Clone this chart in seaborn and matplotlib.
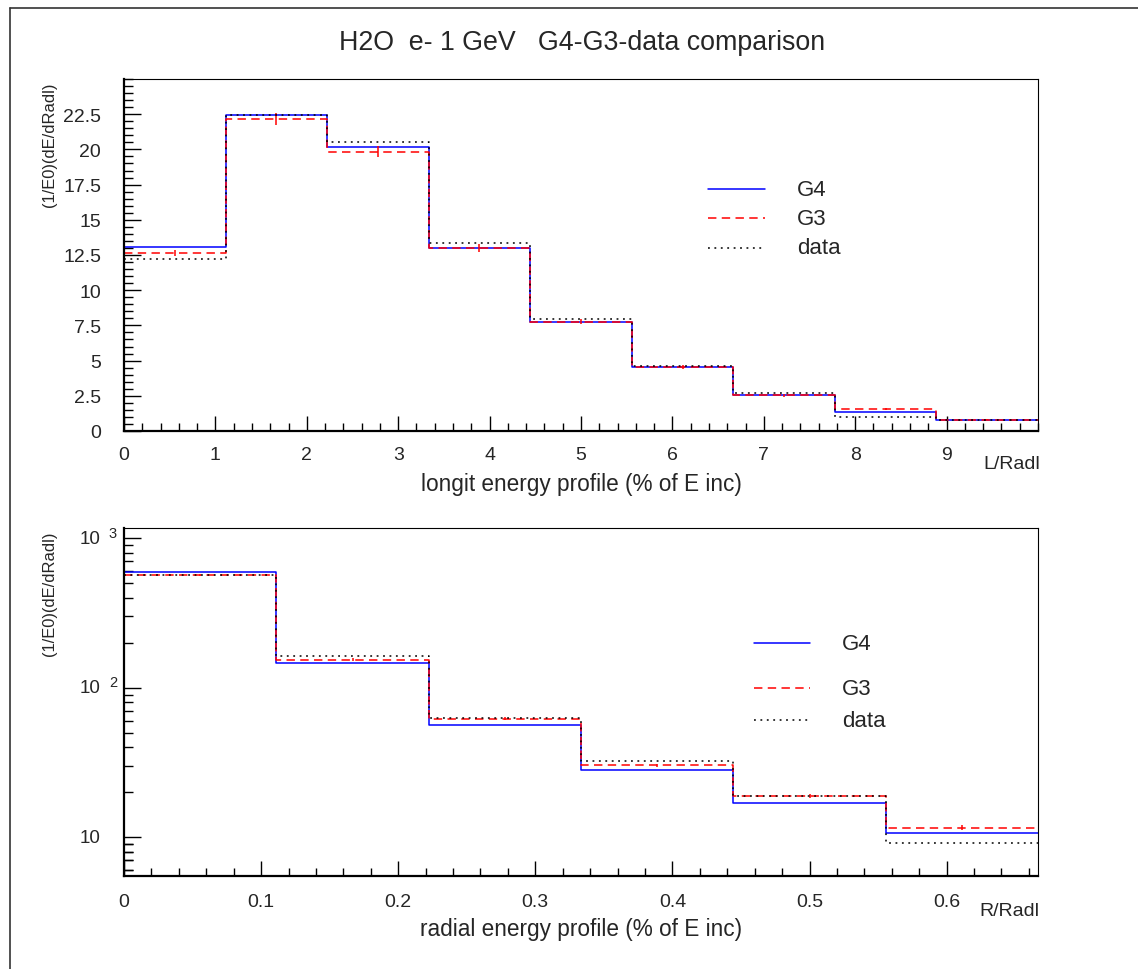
import numpy as np
import pandas as pd
import matplotlib
matplotlib.use("Agg")
import matplotlib.pyplot as plt
import seaborn as sns
from matplotlib.ticker import MultipleLocator, FixedLocator, NullFormatter, FuncFormatter
from matplotlib.lines import Line2D

# ---------------- data ----------------
long_edges = np.linspace(0.0, 10.0, 10)
long_g4 = [13.05, 22.45, 20.2, 13.0, 7.77, 4.54, 2.53, 1.37, 0.80]
long_g3 = [12.65, 22.15, 19.85, 13.0, 7.77, 4.54, 2.53, 1.56, 0.80]
long_g3_err = [0.2, 0.4, 0.4, 0.3, 0.2, 0.12, 0.1, 0.08, 0.05]
long_data = [12.2, 22.45, 20.5, 13.35, 7.95, 4.6, 2.72, 0.97, 0.80]

rad_edges = np.linspace(0.0, 2.0 / 3.0, 7)
rad_g4 = [593, 146.5, 56, 28.0, 16.9, 10.6]
rad_g3 = [566, 154, 62, 30.3, 18.8, 11.6]
rad_g3_err = [9, 3.5, 1.5, 0.8, 0.5, 0.4]
rad_data = [566, 163, 62.5, 32.4, 19.0, 9.1]

series_names = ["G4", "G3", "data"]
title = "H2O  e- 1 GeV   G4-G3-data comparison"
ylabel = "(1/E0)(dE/dRadl)"

# ---------------- style ----------------
sns.set_style("white")
plt.rcParams["font.family"] = ["Liberation Sans", "DejaVu Sans"]

W, H = 1138, 970
fig = plt.figure(figsize=(W / 100, H / 100), dpi=100)

def fx(px):
    return px / W

def fy(py):
    return 1 - py / H

ax1 = fig.add_axes([fx(124), fy(432), fx(1038) - fx(124), fy(80) - fy(432)])
ax2 = fig.add_axes([fx(124), fy(877), fx(1038) - fx(124), fy(529) - fy(877)])

styles = {
    "G4": dict(color="blue", linewidth=1.1, linestyle="-"),
    "G3": dict(color="red", linewidth=1.1, linestyle=(0, (5.5, 3.5))),
    "data": dict(color="black", linewidth=1.1, linestyle=(0, (1.2, 3.0))),
}

TICK_FS = 14
LABEL_FS = 16.3
LEG_FS = 16


def draw_hist(ax, edges, vals, name):
    centers = (edges[:-1] + edges[1:]) / 2
    df = pd.DataFrame({"x": centers, "w": vals})
    sns.histplot(data=df, x="x", weights="w", bins=[float(e) for e in edges],
                 element="step", fill=False, ax=ax, **styles[name])


for ax, edges, g4, g3, g3e, dat in [
    (ax1, long_edges, long_g4, long_g3, long_g3_err, long_data),
    (ax2, rad_edges, rad_g4, rad_g3, rad_g3_err, rad_data),
]:
    draw_hist(ax, edges, g4, "G4")
    draw_hist(ax, edges, g3, "G3")
    centers = (edges[:-1] + edges[1:]) / 2
    ax.errorbar(centers, g3, yerr=g3e, fmt="none", ecolor="red",
                elinewidth=1.1, capsize=0)
    draw_hist(ax, edges, dat, "data")
    ax.set_xlabel("")
    ax.set_ylabel("")
    for s in ["left", "bottom"]:
        ax.spines[s].set_linewidth(1.6)
    for s in ["top", "right"]:
        ax.spines[s].set_linewidth(0.8)
    for s in ax.spines.values():
        s.set_color("black")
    ax.set_facecolor("white")

# ---------- top axes ----------
ax1.set_xlim(0, 10)
ax1.set_ylim(0, 25)
ax1.xaxis.set_major_locator(FixedLocator(list(range(0, 10))))
ax1.xaxis.set_minor_locator(MultipleLocator(0.2))
ax1.yaxis.set_major_locator(FixedLocator(list(np.arange(0, 22.6, 2.5))))
ax1.yaxis.set_minor_locator(MultipleLocator(0.5))
ax1.yaxis.set_major_formatter(FuncFormatter(lambda v, p: "%g" % v))
ax1.xaxis.set_major_formatter(FuncFormatter(lambda v, p: "%g" % v))
ax1.tick_params(axis="x", which="major", direction="in", length=11, width=1, pad=10.5,
                labelsize=TICK_FS, color="black")
ax1.tick_params(axis="x", which="minor", direction="in", length=5.5, width=1, color="black")
ax1.tick_params(axis="y", which="major", direction="in", length=12, width=1, pad=16.5,
                labelsize=TICK_FS, color="black")
ax1.tick_params(axis="y", which="minor", direction="in", length=6.5, width=1, color="black")
ax1.tick_params(which="both", bottom=True, left=True, top=False, right=False)

# ---------- bottom axes ----------
ax2.set_yscale("log")
ax2.set_xlim(0, 2.0 / 3.0)
ax2.set_ylim(5.5, 1170)
ax2.xaxis.set_major_locator(FixedLocator([0, 0.1, 0.2, 0.3, 0.4, 0.5, 0.6]))
ax2.xaxis.set_minor_locator(MultipleLocator(0.02))
ax2.xaxis.set_major_formatter(FuncFormatter(lambda v, p: "%g" % round(v, 3)))
majors = [10, 100, 1000]
minors = [m * d for d in [1, 10, 100] for m in range(2, 10)] + [6, 7, 8, 9]
ax2.yaxis.set_major_locator(FixedLocator(majors))
ax2.yaxis.set_minor_locator(FixedLocator(minors))
ax2.yaxis.set_major_formatter(NullFormatter())
ax2.yaxis.set_minor_formatter(NullFormatter())
ax2.tick_params(axis="x", which="major", direction="in", length=11, width=1, pad=12.5,
                labelsize=TICK_FS, color="black")
ax2.tick_params(axis="x", which="minor", direction="in", length=5.5, width=1, color="black")
ax2.tick_params(axis="y", which="major", direction="in", length=12, width=1, color="black")
ax2.tick_params(axis="y", which="minor", direction="in", length=6.5, width=1, color="black")
ax2.tick_params(which="both", bottom=True, left=True, top=False, right=False)

ytr = ax2.get_yaxis_transform()
for v in majors:
    ax2.text(-0.026, v, "10", transform=ytr, ha="right", va="center", fontsize=13.5)
    e = int(round(np.log10(v)))
    if e > 1:
        ax2.text(-0.0165, v * 1.09, str(e), transform=ytr, ha="left", va="center",
                 fontsize=10.5)

# ---------- labels ----------
fig.text(fx(582), fy(43), title, ha="center", va="center", fontsize=19.3)
for ax in (ax1, ax2):
    ax.text(-0.082, 0.992, ylabel, rotation=90, ha="center", va="top",
            transform=ax.transAxes, fontsize=11.9)
ax1.text(0.5, -0.15, "longit energy profile (% of E inc)", ha="center", va="center",
         transform=ax1.transAxes, fontsize=LABEL_FS)
ax1.text(1.002, -0.093, "L/Radl", ha="right", va="center", transform=ax1.transAxes,
         fontsize=TICK_FS)
ax2.text(0.5, -0.152, "radial energy profile (% of E inc)", ha="center", va="center",
         transform=ax2.transAxes, fontsize=LABEL_FS)
ax2.text(1.002, -0.10, "R/Radl", ha="right", va="center", transform=ax2.transAxes,
         fontsize=TICK_FS)

# ---------- legends ----------
def legend(ax, x0, x1, xt, ys):
    for name, y in zip(series_names, ys):
        ax.add_line(Line2D([x0, x1], [y, y], transform=ax.transAxes, **styles[name]))
        ax.text(xt, y, name, transform=ax.transAxes, ha="left", va="center", fontsize=LEG_FS)

legend(ax1, 0.639, 0.701, 0.736, [0.6875, 0.605, 0.520])
legend(ax2, 0.689, 0.7505, 0.7856, [0.6695, 0.540, 0.448])

# ---------- frame ----------
fig.add_artist(Line2D([fx(10), fx(10)], [0, fy(9)], color="#333333", linewidth=1.2))
fig.add_artist(Line2D([fx(10), 1], [fy(9), fy(9)], color="#333333", linewidth=1.2))

fig.savefig("out.png", dpi=100, facecolor="white")
